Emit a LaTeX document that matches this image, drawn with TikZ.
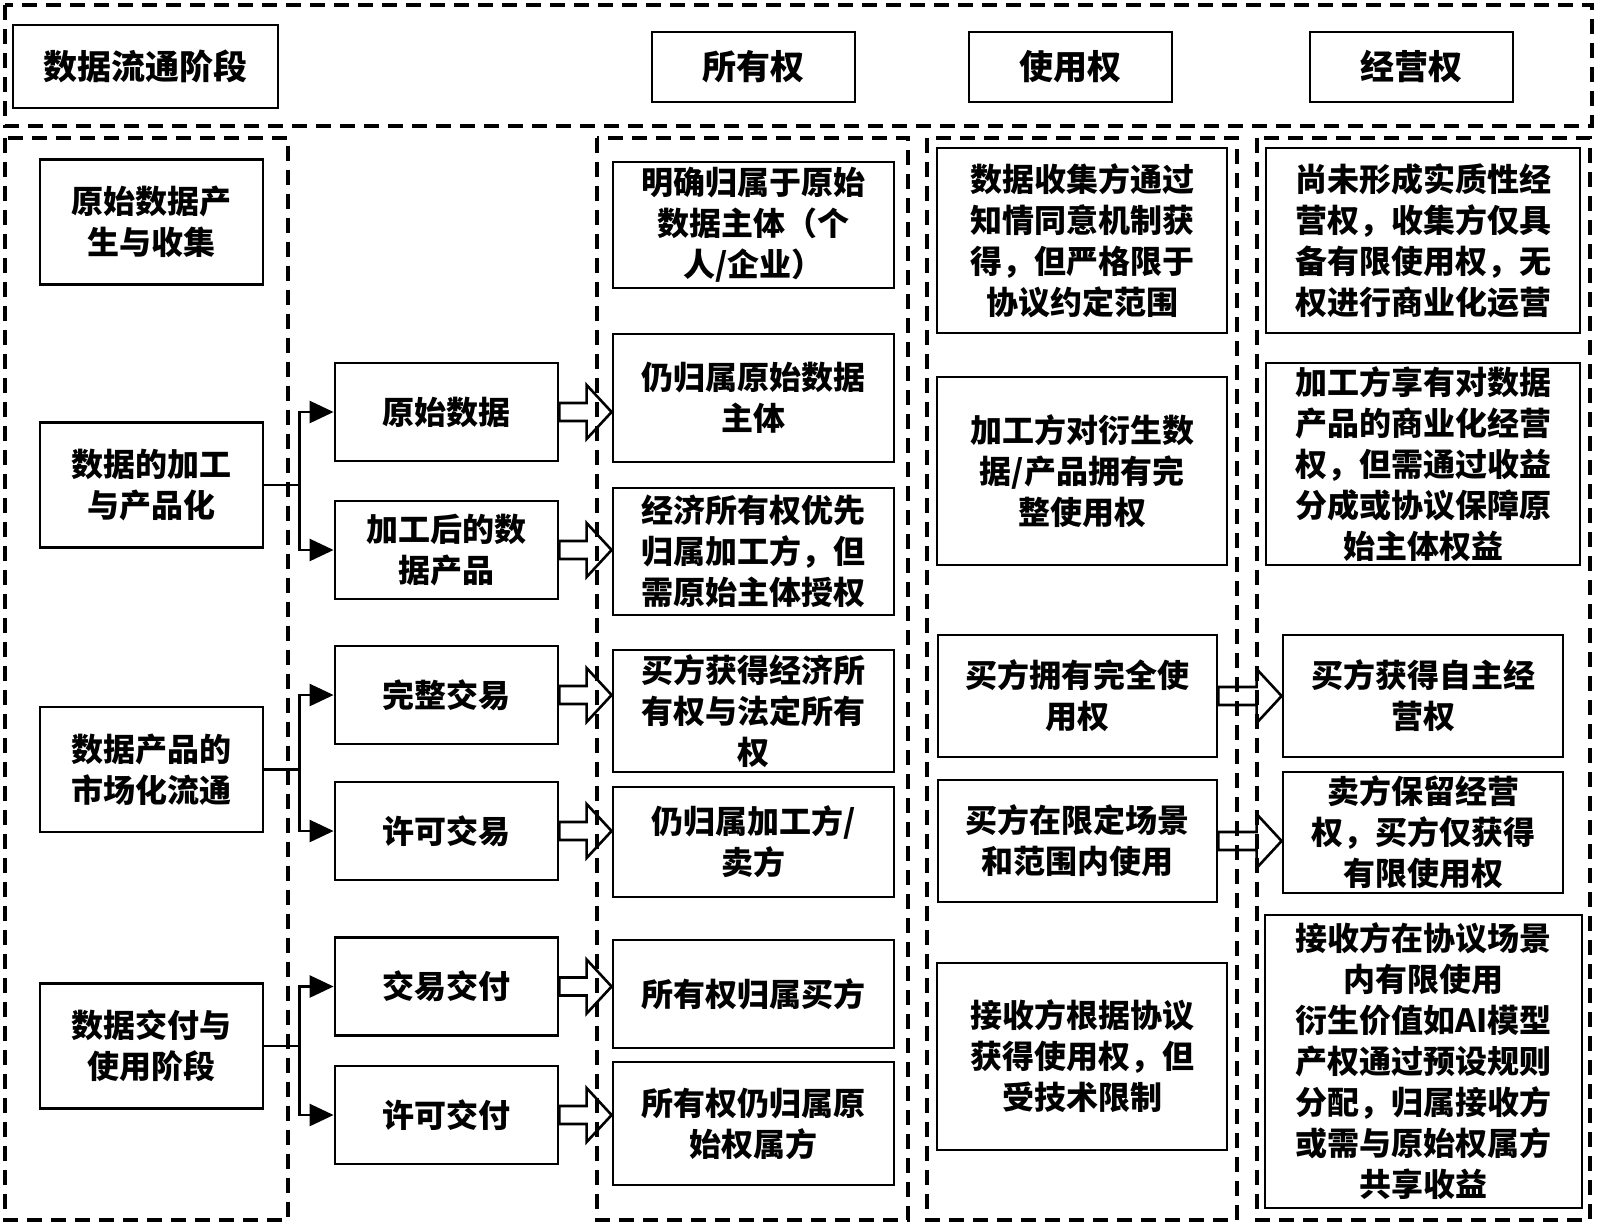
\documentclass[tikz,border=0pt]{standalone}
\usepackage{fontspec}
\setmainfont{Noto Sans CJK SC}
\usetikzlibrary{arrows.meta,calc}

\tikzset{
  box/.style={draw, line width=1.4pt, align=center, inner sep=0pt,
    font=\bfseries\fontsize{16}{20.5}\selectfont},
  hdr/.style={box, font=\bfseries\fontsize{17}{20}\selectfont},
  sz/.style 2 args={minimum width=#1*0.5pt, minimum height=#2*0.5pt},
  zone/.style={draw, line width=1.8pt, dash pattern=on 7.5pt off 4.5pt},
  tree/.style={line width=1.3pt, -{Triangle[length=12pt,width=11pt]}},
}
\newcommand{\hollow}[2]{%
  \draw[line width=1.3pt] let \p1=(#1.east), \p2=(#2.west) in
    (\x1,\y1+4.5pt) -- (\x2-12.5pt,\y1+4.5pt) -- (\x2-12.5pt,\y1+13.5pt) -- (\x2,\y1)
    -- (\x2-12.5pt,\y1-13.5pt) -- (\x2-12.5pt,\y1-4.5pt) -- (\x1,\y1-4.5pt) -- cycle;}

\begin{document}
\begin{tikzpicture}[x=0.5pt,y=-0.5pt]
   \useasboundingbox (0,0) rectangle (1598,1227);
   % dashed zones
   \draw[zone] (5,5) rectangle (1592,126);
   \draw[zone] (5,138) rectangle (288,1220);
   \draw[zone] (597,138) rectangle (908,1220);
   \draw[zone] (927,138) rectangle (1237,1220);
   \draw[zone] (1257,138) rectangle (1590,1220);

   % headers
   \node[hdr, sz={265}{83}] (hstage) at (145.5,66.5) {数据流通阶段};
   \node[hdr, sz={203}{70}] (howner) at (753.5,67) {所有权};
   \node[hdr, sz={203}{70}] (huse) at (1070.5,67) {使用权};
   \node[hdr, sz={203}{70}] (hop) at (1411.5,67) {经营权};

   % stages
   \node[box, sz={223}{125}] (s1) at (151.5,222) {原始数据产\\生与收集};
   \node[box, sz={223}{125}] (s2) at (151.5,485) {数据的加工\\与产品化};
   \node[box, sz={223}{125}] (s3) at (151.5,769.5) {数据产品的\\市场化流通};
   \node[box, sz={223}{125}] (s4) at (151.5,1046) {数据交付与\\使用阶段};

   % branches
   \node[box, sz={223}{98}] (m1) at (446.5,412) {原始数据};
   \node[box, sz={223}{98}] (m2) at (446.5,550) {加工后的数\\据产品};
   \node[box, sz={223}{98}] (m3) at (446.5,695) {完整交易};
   \node[box, sz={223}{98}] (m4) at (446.5,831) {许可交易};
   \node[box, sz={223}{98}] (m5) at (446.5,986.5) {交易交付};
   \node[box, sz={223}{98}] (m6) at (446.5,1115) {许可交付};

   % ownership
   \node[box, sz={281}{126}] (o1) at (753.5,225) {明确归属于原始\\数据主体（个\\人/企业）};
   \node[box, sz={281}{128}] (o2) at (753.5,398) {仍归属原始数据\\主体};
   \node[box, sz={281}{127}] (o3) at (753.5,551.5) {经济所有权优先\\归属加工方，但\\需原始主体授权};
   \node[box, sz={281}{122}] (o4) at (753.5,711) {买方获得经济所\\有权与法定所有\\权};
   \node[box, sz={281}{110}] (o5) at (753.5,842) {仍归属加工方/\\卖方};
   \node[box, sz={281}{108}] (o6) at (753.5,994) {所有权归属买方};
   \node[box, sz={281}{123}] (o7) at (753.5,1123.5) {所有权仍归属原\\始权属方};

   % use rights
   \node[box, sz={290}{185}] (u1) at (1082,240.5) {数据收集方通过\\知情同意机制获\\得，但严格限于\\协议约定范围};
   \node[box, sz={290}{188}] (u2) at (1082,471) {加工方对衍生数\\据/产品拥有完\\整使用权};
   \node[box, sz={279}{122}] (u3) at (1077.5,696) {买方拥有完全使\\用权};
   \node[box, sz={279}{122}] (u4) at (1077.5,841) {买方在限定场景\\和范围内使用};
   \node[box, sz={290}{187}] (u5) at (1082,1056.5) {接收方根据协议\\获得使用权，但\\受技术限制};

   % operating rights
   \node[box, sz={314}{185}] (p1) at (1423,240.5) {尚未形成实质性经\\营权，收集方仅具\\备有限使用权，无\\权进行商业化运营};
   \node[box, sz={314}{202}] (p2) at (1423,464) {加工方享有对数据\\产品的商业化经营\\权，但需通过收益\\分成或协议保障原\\始主体权益};
   \node[box, sz={280}{122}] (p3) at (1423,696) {买方获得自主经\\营权};
   \node[box, sz={280}{121}] (p4) at (1423,832.5) {卖方保留经营\\权，买方仅获得\\有限使用权};
   \node[box, sz={317}{293}] (p5) at (1423.5,1061.5) {接收方在协议场景\\内有限使用\\衍生价值如AI模型\\产权通过预设规则\\分配，归属接收方\\或需与原始权属方\\共享收益};

   % tree connectors
   \foreach \s/\a/\b in {s2/m1/m2, s3/m3/m4, s4/m5/m6} {
      \coordinate (j) at ($(\s.east)+(35,0)$);
      \draw[line width=1.3pt] (\s.east) -- (j);
      \draw[tree] (j) |- (\a);
      \draw[tree] (j) |- (\b);
   }
   % hollow arrows
   \foreach \a/\b in {m1/o2, m2/o3, m3/o4, m4/o5, m5/o6, m6/o7, u3/p3, u4/p4}
      \hollow{\a}{\b};
\end{tikzpicture}
\end{document}
